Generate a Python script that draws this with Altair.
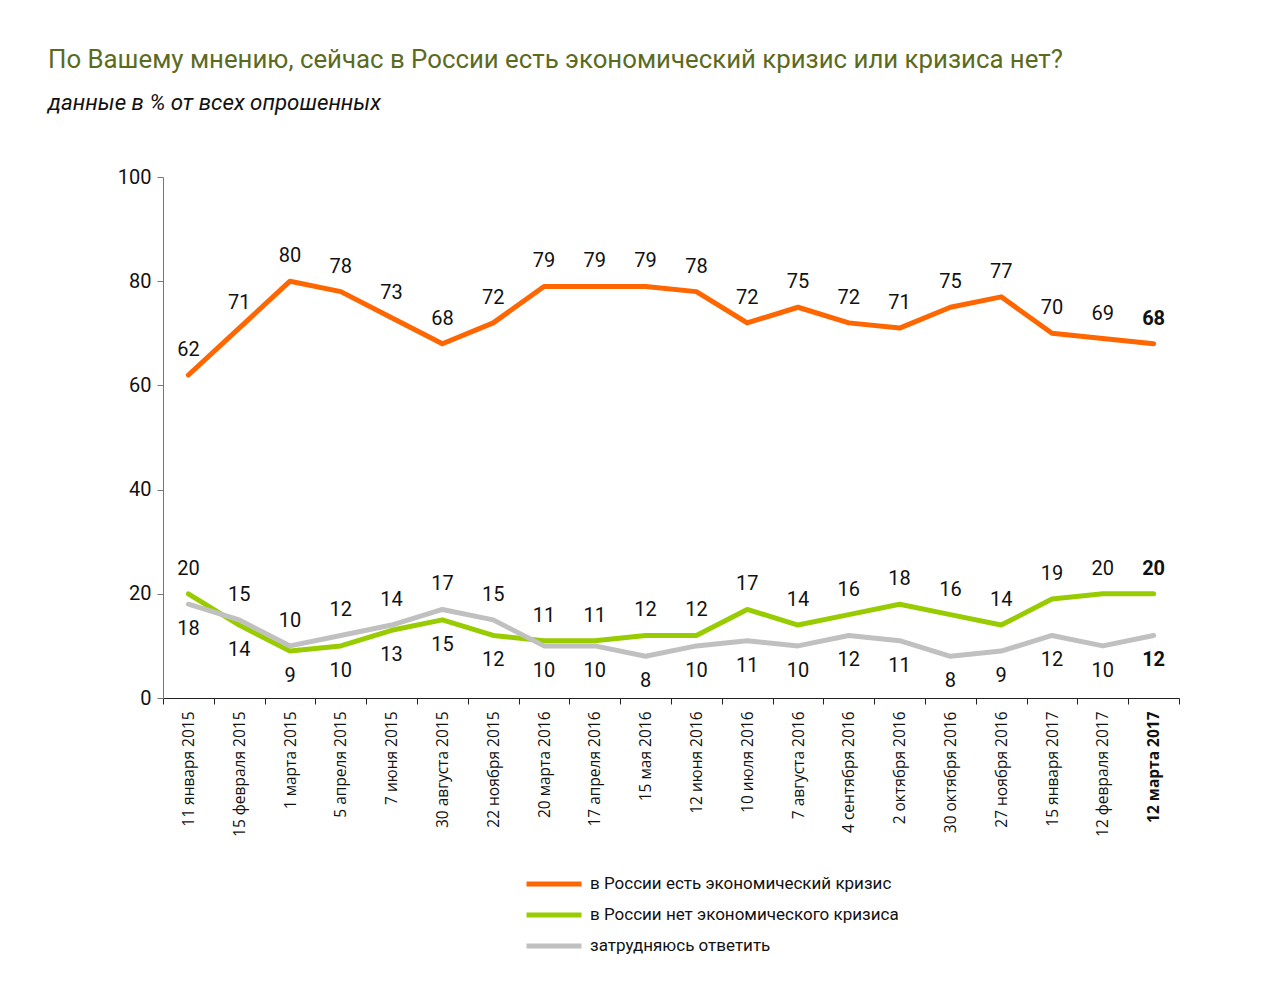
import altair as alt
import pandas as pd

dates = ["11 января 2015", "15 февраля 2015", "1 марта 2015", "5 апреля 2015",
         "7 июня 2015", "30 августа 2015", "22 ноября 2015", "20 марта 2016",
         "17 апреля 2016", "15 мая 2016", "12 июня 2016", "10 июля 2016",
         "7 августа 2016", "4 сентября 2016", "2 октября 2016", "30 октября 2016",
         "27 ноября 2016", "15 января 2017", "12 февраля 2017", "12 марта 2017"]
crisis = [62, 71, 80, 78, 73, 68, 72, 79, 79, 79, 78, 72, 75, 72, 71, 75, 77, 70, 69, 68]
no_crisis = [20, 14, 9, 10, 13, 15, 12, 11, 11, 12, 12, 17, 14, 16, 18, 16, 14, 19, 20, 20]
hard = [18, 15, 10, 12, 14, 17, 15, 10, 10, 8, 10, 11, 10, 12, 11, 8, 9, 12, 10, 12]
series = ["в России есть экономический кризис",
          "в России нет экономического кризиса",
          "затрудняюсь ответить"]
colors = ["#FF6600", "#99CC00", "#C0C0C0"]

FONT = "Roboto"
XFONT = "Open Sans"

rows = []
n = len(dates)
for i in range(n):
    vals = [crisis[i], no_crisis[i], hard[i]]
    for s in range(3):
        if s == 0:
            pos = "above"
        else:
            other = vals[2] if s == 1 else vals[1]
            pos = "above" if vals[s] >= other else "below"
        rows.append({"date": dates[i], "idx": i, "series": series[s], "value": vals[s],
                     "pos": pos, "last": i == n - 1})
df = pd.DataFrame(rows)

last_label = dates[-1]

x_enc = alt.X("date:N", sort=dates, bandPosition=0.5,
              scale=alt.Scale(type="band", paddingInner=0, paddingOuter=0),
              axis=alt.Axis(title=None, labelAngle=-90, tickBand="extent",
                            labelFont=XFONT, labelFontSize=15.5, labelColor="#111",
                            labelFontWeight=alt.ExprRef(f"datum.value == '{last_label}' ? 'bold' : 'normal'"),
                            labelPadding=7, tickSize=6, domainColor="#222",
                            tickColor="#222", domainWidth=1.2))
y_enc = alt.Y("value:Q", scale=alt.Scale(domain=[0, 100]),
              axis=alt.Axis(title=None, values=[0, 20, 40, 60, 80, 100], grid=False,
                            labelFont=FONT, labelFontSize=20, labelColor="#111",
                            labelPadding=6, tickSize=6, domainColor="#777",
                            tickColor="#777"))

color_enc = alt.Color("series:N", sort=series,
                      scale=alt.Scale(domain=series, range=colors),
                      legend=alt.Legend(title=None, orient="none", legendX=379, legendY=695,
                                        symbolType="M-3,0H3", symbolSize=336,
                                        symbolStrokeWidth=5, labelFont=FONT,
                                        labelFontSize=17, labelColor="#111",
                                        labelOffset=24, rowPadding=9, labelLimit=0))

base = alt.Chart(df)

lines = base.mark_line(strokeWidth=5, strokeCap="round", strokeJoin="round").encode(
    x=x_enc, y=y_enc, color=color_enc, order=alt.Order("idx:Q"))


def labels(pos, last, dy):
    return base.transform_filter(
        f"datum.pos == '{pos}' && datum['last'] == {'true' if last else 'false'}"
    ).mark_text(font=FONT, fontSize=20, dy=dy, baseline="middle",
                fontWeight="bold" if last else "normal", color="#111").encode(
        x=alt.X("date:N", sort=dates, bandPosition=0.5), y="value:Q", text="value:Q")


chart = alt.layer(
    lines,
    labels("above", False, -25),
    labels("below", False, 25),
    labels("above", True, -25),
    labels("below", True, 25),
).properties(
    width=1016, height=521,
    autosize=alt.AutoSizeParams(type="none"),
    padding={"left": 155, "top": 169, "right": 90, "bottom": 270},
    title=alt.TitleParams(
        text="По Вашему мнению, сейчас в России есть экономический кризис или кризиса нет?",
        subtitle="данные в % от всех опрошенных",
        anchor="start", frame="group", dx=-115, offset=52,
        font=FONT, fontSize=25.8, fontWeight="normal", color="#5B6B1E",
        subtitleFont=FONT, subtitleFontSize=22.3, subtitleFontStyle="italic",
        subtitleColor="#111", subtitlePadding=18),
).configure(background="white").configure_view(stroke=None)

chart.save("out.html", embed_options={"renderer": "svg", "actions": False})
